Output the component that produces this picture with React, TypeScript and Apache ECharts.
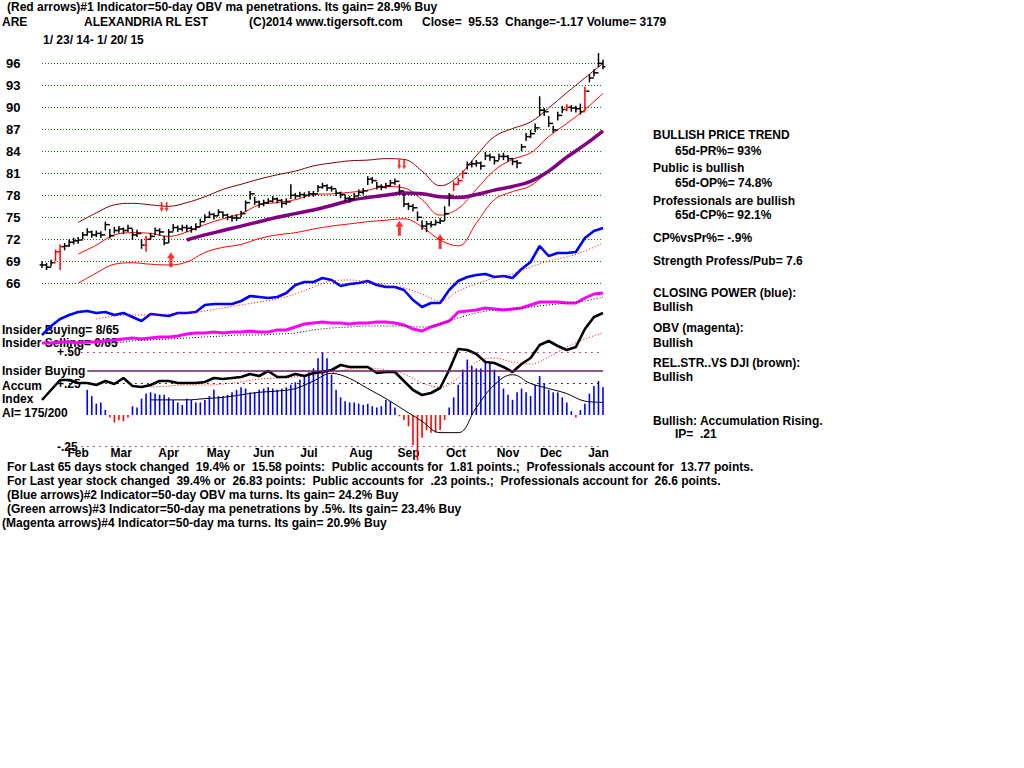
import React, { useEffect, useRef } from 'react';
import * as echarts from 'echarts';

const FAMILY = '"Liberation Sans Narrow", "Arial Narrow", "Liberation Sans", Arial, sans-serif';
const FONT_SIZE = 12;
const FONT = `bold ${FONT_SIZE}px ${FAMILY}`;

// ---------------- data ----------------
const DAY_COUNT = 249; // trading days 1/23/14 .. 1/20/15
const PRICE_STEP = 2;
const LINE_STEP = 4;
const SMOOTH_STEP = 8;

const closes = [
  68.5, 68.2, 68.8, 70.3, 71.0, 71.1, 71.6, 71.8, 71.9, 72.6,
  73.0, 72.6, 72.8, 72.6, 74.0, 72.5, 73.2, 73.4, 73.2, 73.5,
  72.6, 72.8, 71.2, 72.0, 72.4, 73.2, 73.0, 71.5, 73.0, 73.6,
  73.4, 73.6, 73.5, 73.4, 73.7, 74.4, 75.0, 75.4, 75.2, 75.7,
  75.3, 75.0, 74.9, 74.9, 75.5, 77.0, 78.2, 77.1, 76.8, 77.0,
  77.2, 77.5, 77.3, 76.9, 77.1, 78.0, 77.9, 78.1, 78.0, 78.2,
  78.2, 79.1, 79.3, 79.0, 78.9, 78.3, 78.1, 77.6, 77.5, 77.9,
  78.4, 78.6, 80.2, 80.0, 79.2, 79.1, 79.3, 79.7, 79.9, 78.6,
  76.8, 76.5, 76.3, 75.0, 73.8, 74.1, 74.0, 74.3, 74.5, 75.5,
  78.0, 79.5, 80.0, 81.0, 82.2, 82.3, 82.4, 82.0, 83.4, 83.2,
  82.7, 83.3, 83.3, 83.0, 82.6, 82.4, 84.6, 86.0, 86.4, 87.2,
  89.6, 89.4, 87.8, 86.9, 88.9, 89.7, 90.0, 89.9, 89.8, 89.4,
  92.2, 94.0, 94.7, 96.0, 95.53,
];
const highs = [
  69.0, 68.8, 69.2, 70.6, 71.3, 71.5, 72.0, 72.2, 72.3, 73.0,
  73.5, 73.2, 73.2, 73.1, 74.4, 73.4, 73.7, 73.8, 73.6, 74.0,
  73.4, 73.3, 72.0, 72.5, 72.9, 73.6, 73.5, 72.5, 73.4, 74.1,
  73.9, 74.0, 74.0, 73.8, 74.2, 74.8, 75.4, 75.8, 75.6, 76.1,
  75.8, 75.5, 75.3, 75.4, 75.9, 77.3, 78.6, 77.8, 77.3, 77.4,
  77.6, 77.9, 77.7, 77.5, 77.6, 79.5, 78.3, 78.5, 78.4, 78.6,
  78.6, 79.4, 79.7, 79.5, 79.3, 78.8, 78.5, 78.1, 77.9, 78.3,
  78.8, 79.0, 80.6, 80.5, 79.8, 79.5, 79.7, 80.1, 80.3, 79.5,
  78.2, 77.0, 76.8, 75.8, 74.6, 74.5, 74.5, 74.7, 74.9, 76.5,
  78.3, 79.9, 80.4, 81.4, 82.6, 82.7, 82.8, 82.6, 83.9, 83.7,
  83.3, 83.7, 83.8, 83.5, 83.1, 82.8, 85.0, 86.5, 86.9, 87.8,
  91.5, 89.9, 88.8, 87.5, 89.4, 90.2, 90.4, 90.3, 90.2, 90.5,
  92.8, 94.5, 95.2, 97.4, 96.5,
];
const lows = [
  68.1, 67.8, 68.3, 69.0, 67.8, 70.5, 71.0, 71.3, 71.4, 72.0,
  72.5, 72.2, 72.3, 72.2, 73.2, 72.1, 72.8, 72.9, 72.7, 73.0,
  71.9, 72.3, 70.7, 70.3, 71.9, 72.6, 72.5, 71.2, 71.5, 73.1,
  73.0, 73.1, 73.0, 72.9, 73.2, 73.8, 74.5, 74.9, 74.7, 75.2,
  74.9, 74.6, 74.4, 74.5, 75.0, 75.8, 77.4, 76.7, 76.3, 76.5,
  76.8, 77.0, 76.9, 76.3, 76.7, 77.5, 77.5, 77.7, 77.6, 77.8,
  77.8, 78.4, 78.9, 78.6, 78.5, 77.9, 77.6, 77.2, 77.0, 77.4,
  77.9, 78.1, 79.4, 79.6, 78.8, 78.7, 78.9, 79.2, 79.4, 78.2,
  76.4, 76.0, 75.8, 74.5, 73.3, 73.0, 73.6, 73.9, 74.1, 74.5,
  76.5, 78.6, 79.4, 80.3, 81.5, 81.8, 81.9, 81.5, 82.8, 82.7,
  82.2, 82.8, 82.8, 82.6, 82.1, 81.7, 84.0, 85.4, 85.8, 86.6,
  88.8, 88.8, 87.3, 86.5, 88.2, 89.2, 89.5, 89.4, 89.3, 89.0,
  89.5, 93.4, 94.2, 95.5, 95.2,
];
const redBars = [3, 4, 23, 91, 92, 93, 116, 120];

// 8-day samples
const upperBand = [null, null, 74.3, 75.6, 76.7, 76.9, 76.7, 76.5, 77.0, 77.8, 78.8, 79.5, 80.2, 80.8, 81.3, 82.0,
  82.4, 82.7, 82.8, 83.0, 82.9, 81.3, 79.3, 80.6, 83.4, 86.0, 87.1, 88.0, 89.9, 92.0, 94.0, 96.0];
const midBand = [null, null, 70.0, 71.2, 72.6, 72.9, 72.8, 72.4, 73.0, 74.0, 74.8, 75.5, 76.7, 77.0, 77.4, 78.1,
  78.2, 78.4, 78.7, 79.2, 79.0, 77.4, 75.3, 76.2, 78.8, 81.4, 82.9, 83.8, 86.0, 87.8, 89.7, 91.9];
const lowerBand = [null, null, 66.0, 67.4, 68.6, 68.8, 68.6, 68.5, 68.9, 70.2, 70.9, 71.3, 72.1, 72.6, 72.9, 73.4,
  73.8, 74.1, 74.4, 74.6, 74.8, 73.7, 71.9, 71.1, 74.2, 77.4, 78.5, 79.3, 81.4, 83.4, 85.0, 86.5];
const ma50 = [null, null, null, null, null, null, null, null, 71.9, 72.6, 73.2, 73.8, 74.4, 75.0, 75.5, 76.0,
  76.6, 77.3, 77.7, 78.0, 78.3, 78.2, 77.8, 77.7, 78.1, 78.7, 79.2, 79.9, 81.3, 83.2, 84.9, 86.8];

// 4-day samples (arbitrary indicator units)
const closingPower = [
  2.5, 7, 10.5, 12.5, 14, 14.5, 13.5, 14, 12.5, 13.5,
  11.5, 9.5, 13, 12.5, 12, 13.5, 13.5, 14, 17.5, 18,
  18, 18, 19.5, 22, 21.5, 21, 21.5, 23.5, 27.5, 29,
  29, 31, 30, 27, 28, 28.5, 29.5, 27.5, 26.5, 26.5,
  25, 20, 16.5, 18.5, 18.5, 25, 29.5, 31.5, 32.5, 33,
  31.5, 32, 31, 35.5, 39, 47, 42, 43.5, 43.5, 44,
  51, 54.5, 56,
];
const closingPowerMa = [null, null, null, 10.5, 12, 12.5, 12.5, 13, 13.5, 14.5, 16, 17.5, 19, 20.5, 23, 26.5,
  29.5, 30, 29, 27.5, 26, 23, 19.5, 24.5, 28, 31, 33, 36.5, 39.5, 41.5, 44.5, 48.5];
const obv = [
  7, 7, 8, 8, 7, 8, 8, 9, 10, 11,
  12, 11, 12, 13, 13, 14, 16, 17, 17, 18,
  17, 18, 18, 19, 18, 18, 20, 20, 23, 26,
  27, 28, 27, 27, 26, 27, 27, 28, 28, 27,
  25, 21, 19, 23, 26, 29, 38, 39, 40, 42,
  41, 40, 41, 42, 45, 48, 48, 48, 47, 47,
  52, 56, 57,
];
const obvMa = [null, null, null, 6, 7, 9, 10, 11, 12, 13, 14, 15, 15, 16, 17, 20,
  22, 23, 24, 24, 24, 23, 26, 32, 37, 40, 41, 43, 45, 47, 49, 53];
const relStrength = [
  10, 15, 20, 20, 18.5, 18.5, 17.5, 19.5, 18, 21,
  17, 16.5, 17.5, 19.5, 19.5, 18.5, 18.5, 18.5, 19, 21,
  20.5, 21, 21.5, 23, 22, 24.5, 21.5, 21.5, 23, 22,
  23.5, 24, 25, 27.5, 26.5, 26.5, 26.5, 23.5, 24, 24,
  19.5, 15, 12.5, 13.5, 16, 25, 35.5, 35, 33, 29,
  28.5, 26.5, 24, 28, 31, 37.5, 39.5, 37, 35, 36.5,
  45.5, 51.5, 53.5,
];
const relStrengthMa = [null, null, null, null, null, null, 16.5, 17, 17.5, 17.5, 18, 19, 20.5, 21, 21.5, 22.5,
  23.5, 25.5, 26, 25, 23, 18.5, 16.5, 21, 29, 31, 29, 28, 31.5, 36.5, 40.5, 43.5];

// 2-day samples
const accumIndex = [
  null, null, null, null, null, null, null, null, null, null,
  0.20, 0.15, 0.09, 0.10, 0.04, -0.02, -0.06, -0.04, -0.05, -0.02,
  0.07, 0.06, 0.13, 0.17, 0.18, 0.17, 0.16, 0.16, 0.14, 0.12,
  0.10, 0.08, 0.13, 0.12, 0.10, 0.10, 0.12, 0.15, 0.20, 0.15,
  0.15, 0.16, 0.18, 0.20, 0.22, 0.21, 0.18, 0.18, 0.20, 0.21,
  0.22, 0.21, 0.20, 0.21, 0.22, 0.24, 0.26, 0.28, 0.31, 0.34,
  0.37, 0.45, 0.50, 0.45, 0.32, 0.20, 0.14, 0.11, 0.10, 0.10,
  0.09, 0.08, 0.09, 0.07, 0.06, 0.07, 0.12, 0.11, 0.06, -0.01,
  -0.04, -0.09, -0.24, -0.36, -0.18, -0.12, -0.14, -0.14, -0.12, -0.04,
  0.06, 0.14, 0.24, 0.36, 0.44, 0.39, 0.37, 0.37, 0.43, 0.41,
  0.36, 0.31, 0.21, 0.16, 0.12, 0.18, 0.21, 0.18, 0.15, 0.24,
  0.31, 0.25, 0.20, 0.18, 0.18, 0.14, 0.10, 0.03, -0.02, 0.04,
  0.09, 0.17, 0.23, 0.27, 0.22,
];
const accumIndexMa = [null, null, null, null, null, null, 0.12, 0.12, 0.12, 0.13, 0.14, 0.16, 0.18, 0.19, 0.21, 0.27,
  0.33, 0.29, 0.21, 0.13, 0.04, -0.05, -0.14, -0.14, 0.06, 0.24, 0.32, 0.25, 0.21, 0.17, 0.11, 0.10];

const monthNames = ['Feb', 'Mar', 'Apr', 'May', 'Jun', 'Jul', 'Aug', 'Sep', 'Oct', 'Nov', 'Dec', 'Jan'];
const monthDays = [16, 35, 56, 78, 98, 118, 141, 162, 183, 206, 225, 246];

const upArrowDays = [57, 158, 176];
const upArrowPrices = [69.2, 73.5, 71.7];
const downArrowDays = [54, 159];
const downArrowPrices = [76.4, 82.2];

const aiLevels = [0.5, 0.25, -0.25];
const insiderLevel = 0.35;

// ---------------- texts ----------------
const headerTexts: [string, number, number][] = [
  ['(Red arrows)#1 Indicator=50-day OBV ma penetrations. Its gain= 28.9% Buy', 7, 7],
  ['ARE', 2, 22],
  ['ALEXANDRIA RL EST', 84, 22],
  ['(C)2014 www.tigersoft.com', 249, 22],
  ['Close=  95.53  Change=-1.17 Volume= 3179', 422, 22],
  ['1/ 23/ 14- 1/ 20/ 15', 43, 40],
  ['BULLISH PRICE TREND', 653, 135],
  ['65d-PR%= 93%', 675, 151],
  ['Public is bullish', 653, 168],
  ['65d-OP%= 74.8%', 675, 183],
  ['Professionals are bullish', 653, 201],
  ['65d-CP%= 92.1%', 675, 215],
  ['CP%vsPr%= -.9%', 653, 238],
  ['Strength Profess/Pub= 7.6', 653, 261],
  ['CLOSING POWER (blue):', 653, 293],
  ['Bullish', 653, 307],
  ['OBV (magenta):', 653, 328],
  ['Bullish', 653, 343],
  ['REL.STR..VS DJI (brown):', 653, 363],
  ['Bullish', 653, 377],
  ['Bullish: Accumulation Rising.', 653, 421],
  ['IP=  .21', 675, 434],
  ['Insider Buying= 8/65', 2, 330],
  ['Insider Selling= 0/65', 2, 343],
  ['Insider Buying', 2, 371],
  ['Accum', 2, 386],
  ['Index', 2, 399],
  ['AI= 175/200', 2, 413],
  ['For Last 65 days stock changed  19.4% or  15.58 points:  Public accounts for  1.81 points.;  Professionals account for  13.77 points.', 7, 467],
  ['For Last year stock changed  39.4% or  26.83 points:  Public accounts for  .23 points.;  Professionals account for  26.6 points.', 7, 481],
  ['(Blue arrows)#2 Indicator=50-day OBV ma turns. Its gain= 24.2% Buy', 7, 495],
  ['(Green arrows)#3 Indicator=50-day ma penetrations by .5%. Its gain= 23.4% Buy', 7, 509],
  ['(Magenta arrows)#4 Indicator=50-day ma turns. Its gain= 20.9% Buy', 2, 523],
];

const toPairs = (arr: (number | null)[], step: number) =>
  arr.map((v, k) => [k * step, v]).filter((p) => p[1] !== null);

const UP_ARROW = 'path://M4,0 L8,6 L5.5,6 L5.5,15 L2.5,15 L2.5,6 L0,6 Z';
const DOWN_ARROWS =
  'path://M1,0 L2.6,0 L2.6,6 L3.6,6 L1.8,10 L0,6 L1,6 Z M5.4,0 L7,0 L7,6 L8,6 L6.2,10 L4.4,6 L5.4,6 Z';

function buildOption() {
  const dayCats = Array.from({ length: DAY_COUNT }, (_, d) => String(d));
  const bars = closes.map((c, i) => [
    i * PRICE_STEP,
    i > 0 ? closes[i - 1] : c,
    c,
    lows[i],
    highs[i],
    redBars.indexOf(i) >= 0 ? 1 : 0,
  ]);
  const labelStyle = { fontFamily: FAMILY, fontWeight: 'bold' as const, fontSize: FONT_SIZE, color: '#000' };
  const line = (
    name: string,
    data: any[],
    yAxisIndex: number,
    xAxisIndex: number,
    color: string,
    width: number,
    type: any = 'solid',
    smooth: number | boolean = false,
    z = 3,
  ) => ({
    name,
    type: 'line',
    xAxisIndex,
    yAxisIndex,
    data,
    showSymbol: false,
    symbol: 'none',
    smooth,
    z,
    lineStyle: { color, width, type },
    silent: true,
  });
  const dotted = [1, 2];
  const sparseDots = [1.5, 4.5];

  return {
    animation: false,
    backgroundColor: '#ffffff',
    grid: [
      { left: 42, top: 63.3, width: 561, height: 220, containLabel: false, outerBoundsMode: 'none' },
      { left: 42, top: 63.3, width: 561, height: 383.2, containLabel: false, outerBoundsMode: 'none' },
    ],
    xAxis: [
      { type: 'category', gridIndex: 0, data: dayCats, boundaryGap: false, show: false },
      {
        type: 'category',
        gridIndex: 1,
        data: dayCats,
        boundaryGap: false,
        axisLine: { show: false },
        axisTick: { show: false },
        splitLine: { show: false },
        axisLabel: {
          ...labelStyle,
          margin: 0,
          interval: (index: number) => monthDays.indexOf(index) >= 0,
          formatter: (_v: string, index: number) => {
            const k = monthDays.indexOf(index);
            return k >= 0 ? monthNames[k] : '';
          },
        },
      },
    ],
    yAxis: [
      {
        type: 'value',
        gridIndex: 0,
        min: 66,
        max: 96,
        interval: 3,
        axisLine: { show: false },
        axisTick: { show: false },
        splitLine: { show: true, lineStyle: { color: '#008000', type: dotted, width: 1 } },
        axisLabel: { ...labelStyle, fontSize: 13, align: 'left', margin: 36 },
      },
      {
        type: 'value',
        gridIndex: 1,
        min: -0.25,
        max: 2.7913,
        interval: 0.25,
        axisLine: { show: false },
        axisTick: { show: false },
        splitLine: { show: false },
        axisLabel: {
          ...labelStyle,
          inside: true,
          margin: 15,
          align: 'left',
          formatter: (v: number) => {
            if (Math.abs(v - 0.5) < 1e-6) return '+.50';
            if (Math.abs(v - 0.25) < 1e-6) return '+.25';
            if (Math.abs(v + 0.25) < 1e-6) return '-.25';
            return '';
          },
        },
      },
      { type: 'value', gridIndex: 1, min: -53.25, max: 138.35, show: false },
      { type: 'value', gridIndex: 1, min: -96.5, max: 286.7, show: false },
      { type: 'value', gridIndex: 1, min: -13.25, max: 178.35, show: false },
    ],
    graphic: headerTexts.map(([t, x, y]) => ({
      type: 'text',
      x,
      y,
      z: 1,
      silent: true,
      style: { text: t, font: FONT, fill: '#000', textVerticalAlign: 'middle', verticalAlign: 'middle' },
    })),
    series: [
      line('upper', toPairs(upperBand, SMOOTH_STEP), 0, 0, '#800000', 1, 'solid', 0.4),
      line('middle', toPairs(midBand, SMOOTH_STEP), 0, 0, '#ff0000', 1, 'solid', 0.4),
      line('lower', toPairs(lowerBand, SMOOTH_STEP), 0, 0, '#ff0000', 1, 'solid', 0.4),
      line('ma50', toPairs(ma50, SMOOTH_STEP), 0, 0, '#800080', 3.5, 'solid', 0.4),
      {
        name: 'price',
        type: 'custom',
        xAxisIndex: 0,
        yAxisIndex: 0,
        data: bars,
        encode: { x: 0, y: [1, 2, 3, 4] },
        z: 4,
        silent: true,
        renderItem: (_params: any, api: any) => {
          const d = api.value(0);
          const p0 = api.coord([d, api.value(1)]);
          const x = p0[0];
          const yO = p0[1];
          const yC = api.coord([d, api.value(2)])[1];
          const yL = api.coord([d, api.value(3)])[1];
          const yH = api.coord([d, api.value(4)])[1];
          const color = api.value(5) ? '#ff0000' : '#000000';
          const style = { stroke: color, lineWidth: 1.5 };
          return {
            type: 'group',
            children: [
              { type: 'line', shape: { x1: x, y1: yH, x2: x, y2: yL }, style },
              { type: 'line', shape: { x1: x - 2.4, y1: yO, x2: x, y2: yO }, style },
              { type: 'line', shape: { x1: x, y1: yC, x2: x + 2.4, y2: yC }, style },
            ],
          };
        },
      },
      {
        name: 'up arrows',
        type: 'scatter',
        xAxisIndex: 0,
        yAxisIndex: 0,
        symbol: UP_ARROW,
        symbolSize: [8, 15],
        itemStyle: { color: '#ff0000' },
        z: 5,
        silent: true,
        data: upArrowDays.map((d, i) => [d, upArrowPrices[i]]),
      },
      {
        name: 'down arrows',
        type: 'scatter',
        xAxisIndex: 0,
        yAxisIndex: 0,
        symbol: DOWN_ARROWS,
        symbolSize: [9, 10],
        itemStyle: { color: '#ff0000' },
        z: 5,
        silent: true,
        data: downArrowDays.map((d, i) => [d, downArrowPrices[i]]),
      },
      {
        name: 'accum',
        type: 'bar',
        xAxisIndex: 1,
        yAxisIndex: 1,
        data: toPairs(accumIndex, PRICE_STEP),
        barWidth: 1.6,
        clip: false,
        silent: true,
        z: 2,
        itemStyle: { color: (p: any) => (p.value[1] < 0 ? '#ff0000' : '#0000ff') },
        markLine: {
          silent: true,
          symbol: 'none',
          label: { show: false },
          data: [
            ...aiLevels.map((lv) => [
              {
                coord: [12, lv],
                lineStyle: { color: lv === 0.25 ? '#000000' : '#a0206a', type: sparseDots, width: 1.2 },
              },
              { coord: [DAY_COUNT - 1, lv] },
            ]),
            [
              { coord: [20, insiderLevel], lineStyle: { color: '#6a1f62', type: 'solid', width: 1.5 } },
              { coord: [DAY_COUNT - 1, insiderLevel] },
            ],
          ],
        },
      },
      line('accumMa', toPairs(accumIndexMa, SMOOTH_STEP), 1, 1, '#000000', 1, 'solid', 0.4),
      line('cp', toPairs(closingPower, LINE_STEP), 2, 1, '#0000ff', 2.6),
      line('cpMa', toPairs(closingPowerMa, SMOOTH_STEP), 2, 1, '#ff0000', 1, dotted, 0.4),
      line('obv', toPairs(obv, LINE_STEP), 3, 1, '#ff00ff', 3),
      line('obvMa', toPairs(obvMa, SMOOTH_STEP), 3, 1, '#000000', 1, dotted, 0.4),
      line('rsMa', toPairs(relStrengthMa, SMOOTH_STEP), 4, 1, '#ff0000', 1, dotted, 0.4),
      line('rs', toPairs(relStrength, LINE_STEP), 4, 1, '#000000', 2.6),
    ],
  };
}

export default function App() {
  const ref = useRef<HTMLDivElement>(null);
  useEffect(() => {
    if (!ref.current) return;
    const chart = echarts.init(ref.current, null, { renderer: 'svg' });
    chart.setOption(buildOption() as any);
    return () => chart.dispose();
  }, []);
  return (
    <div
      ref={ref}
      style={{ position: 'absolute', left: 0, top: 0, width: 1024, height: 768, background: '#ffffff' }}
    />
  );
}
